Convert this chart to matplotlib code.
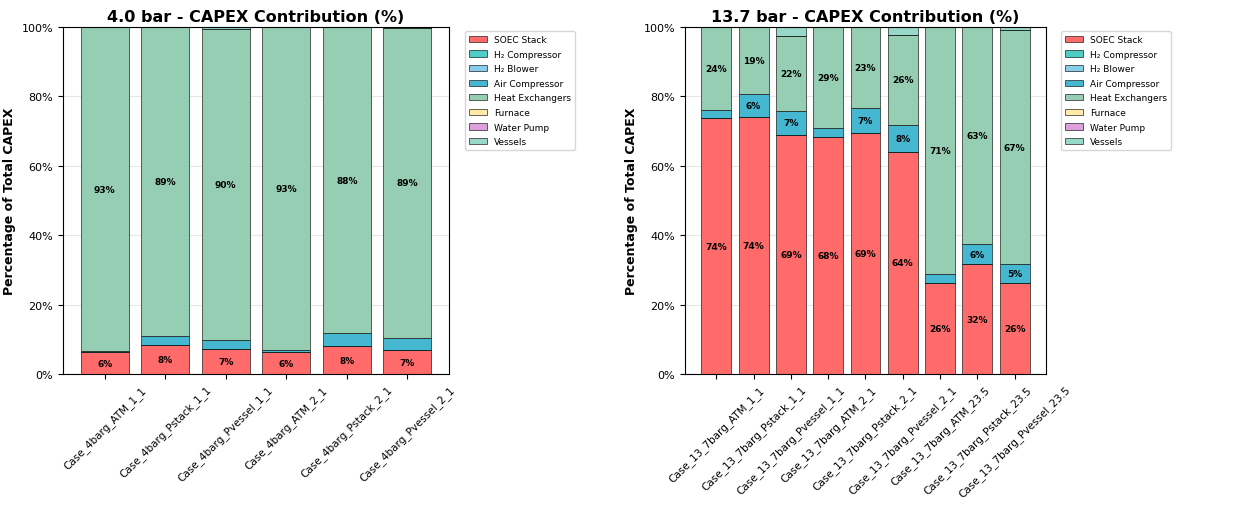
import numpy as np
import matplotlib
matplotlib.use('Agg')
import matplotlib.pyplot as plt
from matplotlib.ticker import FuncFormatter

# Component names and colours (stack order, bottom to top)
components = ['SOEC Stack', 'H₂ Compressor', 'H₂ Blower', 'Air Compressor',
              'Heat Exchangers', 'Furnace', 'Water Pump', 'Vessels']
colors = ['#FF6B6B', '#4ECDC4', '#87CEEB', '#45B7D1',
          '#96CEB4', '#FFEAA7', '#DDA0DD', '#98D8C8']

# 4.0 bar cases
cases_4bar = ['Case_4barg_ATM_1_1', 'Case_4barg_Pstack_1_1', 'Case_4barg_Pvessel_1_1',
              'Case_4barg_ATM_2_1', 'Case_4barg_Pstack_2_1', 'Case_4barg_Pvessel_2_1']
soec_4 = [6.2, 8.3, 7.1, 6.3, 8.0, 6.9]
h2comp_4 = [0, 0, 0, 0, 0, 0]
h2blow_4 = [0, 0, 0, 0, 0, 0]
aircomp_4 = [0.4, 2.6, 2.6, 0.6, 3.7, 3.6]
hx_4 = [93.4, 89.1, 89.8, 93.1, 88.3, 89.1]
furnace_4 = [0, 0, 0, 0, 0, 0]
pump_4 = [0, 0, 0, 0, 0, 0]
vessels_4 = [0, 0, 0.5, 0, 0, 0.4]

# 13.7 bar cases
cases_13bar = ['Case_13_7barg_ATM_1_1', 'Case_13_7barg_Pstack_1_1', 'Case_13_7barg_Pvessel_1_1',
               'Case_13_7barg_ATM_2_1', 'Case_13_7barg_Pstack_2_1', 'Case_13_7barg_Pvessel_2_1',
               'Case_13_7barg_ATM_23.5', 'Case_13_7barg_Pstack_23.5', 'Case_13_7barg_Pvessel_23.5']
soec_13 = [73.7, 74.2, 68.8, 68.3, 69.4, 64.1, 26.2, 31.6, 26.2]
h2comp_13 = [0, 0, 0, 0, 0, 0, 0, 0, 0]
h2blow_13 = [0, 0, 0, 0, 0, 0, 0, 0, 0]
aircomp_13 = [2.3, 6.4, 7.1, 2.7, 7.3, 7.6, 2.6, 5.8, 5.4]
hx_13 = [24.0, 19.4, 21.6, 29.0, 23.3, 26.1, 71.2, 62.6, 67.4]
furnace_13 = [0, 0, 0, 0, 0, 0, 0, 0, 0]
pump_13 = [0, 0, 0, 0, 0, 0, 0, 0, 0]
vessels_13 = [0, 0, 2.5, 0, 0, 2.2, 0, 0, 1.0]

panels = [
    ('4.0 bar - CAPEX Contribution (%)', cases_4bar,
     [soec_4, h2comp_4, h2blow_4, aircomp_4, hx_4, furnace_4, pump_4, vessels_4]),
    ('13.7 bar - CAPEX Contribution (%)', cases_13bar,
     [soec_13, h2comp_13, h2blow_13, aircomp_13, hx_13, furnace_13, pump_13, vessels_13]),
]

fig = plt.figure(figsize=(12.4, 5.06), dpi=100)
ax_left = fig.add_axes([0.0508, 0.2589, 0.3113, 0.6858])
ax_right = fig.add_axes([0.5524, 0.2589, 0.2911, 0.6858])

for ax, (title, cases, series) in zip([ax_left, ax_right], panels):
    x = np.arange(len(cases))
    bottom = np.zeros(len(cases))
    for name, vals, col in zip(components, series, colors):
        vals = np.array(vals, dtype=float)
        ax.bar(x, vals, 0.8, bottom=bottom, label=name, color=col,
               edgecolor=(0, 0, 0, 0.6), linewidth=0.7)
        # label segments that are big enough
        for xi, v, b in zip(x, vals, bottom):
            if v > 5:
                ax.text(xi, b + v / 2, f'{v:.0f}%', ha='center', va='center',
                        fontsize=6.5, fontweight='bold')
        bottom += vals

    ax.set_title(title, fontsize=11.5, fontweight='bold', pad=4)
    ax.set_ylabel('Percentage of Total CAPEX', fontsize=9, fontweight='bold')
    ax.set_ylim(0, 100)
    ax.yaxis.set_major_formatter(FuncFormatter(lambda v, p: f'{v:.0f}%'))
    ax.set_xticks(x)
    ax.set_xticklabels(cases, rotation=45, ha='center', fontsize=7.5)
    ax.tick_params(axis='y', labelsize=8)
    ax.grid(axis='y', alpha=0.3)
    ax.set_axisbelow(True)
    ax.legend(loc='upper left', bbox_to_anchor=(1.03, 1.0), fontsize=6.5,
              labelspacing=0.62)

plt.savefig('out.png', dpi=100)
